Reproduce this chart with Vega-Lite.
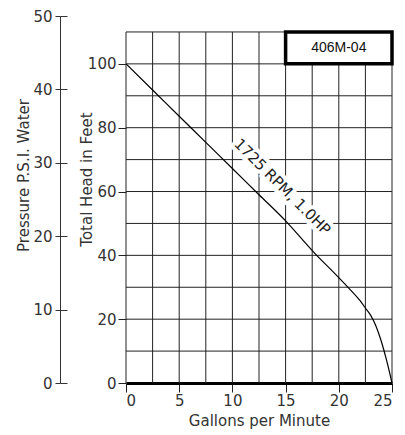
{
  "$schema": "https://vega.github.io/schema/vega-lite/v6.json",
  "width": 266,
  "height": 367,
  "autosize": "none",
  "padding": {"left": 126, "top": 16, "right": 13, "bottom": 52},
  "background": "white",
  "config": {"view": {"stroke": null}, "font": "DejaVu Sans"},
  "datasets": {
    "curve": [
      {"gpm": 0, "head": 100},
      {"gpm": 2.5, "head": 91.8},
      {"gpm": 5, "head": 83.6},
      {"gpm": 7.5, "head": 75.4},
      {"gpm": 10, "head": 67.2},
      {"gpm": 12.5, "head": 59},
      {"gpm": 15, "head": 50.8},
      {"gpm": 17.5, "head": 41.5},
      {"gpm": 20, "head": 33},
      {"gpm": 21, "head": 29.5},
      {"gpm": 22, "head": 25.8},
      {"gpm": 22.5, "head": 23.5},
      {"gpm": 23, "head": 21.2},
      {"gpm": 23.5, "head": 17.8},
      {"gpm": 24, "head": 13},
      {"gpm": 24.5, "head": 7},
      {"gpm": 25, "head": 0}
    ],
    "vgrid": [
      {"gpm": 0}, {"gpm": 2.5}, {"gpm": 5}, {"gpm": 7.5}, {"gpm": 10}, {"gpm": 12.5},
      {"gpm": 15}, {"gpm": 17.5}, {"gpm": 20}, {"gpm": 22.5}, {"gpm": 25}
    ],
    "hgrid": [
      {"head": 10}, {"head": 20}, {"head": 30}, {"head": 40}, {"head": 50}, {"head": 60},
      {"head": 70}, {"head": 80}, {"head": 90}, {"head": 100}, {"head": 110}
    ],
    "label": [{"gpm": 14.7, "head": 61.5, "text": "1725 RPM, 1.0HP"}],
    "box": [{"gpm": 15, "gpm_end": 25, "head": 100, "head_end": 110, "name": "406M-04"}],
    "psi": [{"psi": 0}, {"psi": 50}]
  },
  "resolve": {"scale": {"y": "independent"}},
  "layer": [
    {
      "layer": [
        {
          "data": {"name": "vgrid"},
          "mark": {"type": "rule", "color": "#222", "strokeWidth": 1},
          "encoding": {
            "x": {
              "field": "gpm", "type": "quantitative",
              "scale": {"domain": [0, 25], "nice": false, "zero": false},
              "axis": {
                "values": [0, 2.5, 5, 7.5, 10, 12.5, 15, 17.5, 20, 22.5, 25],
                "labelExpr": "datum.value % 5 === 0 ? datum.label : ''",
                "grid": false, "tickSize": 9, "tickColor": "#222",
                "domainWidth": 3, "domainColor": "#000",
                "labelFontSize": 15, "labelColor": "#333", "labelPadding": 1,
                "title": "Gallons per Minute", "titleFontSize": 15,
                "titleFontWeight": "normal", "titleColor": "#333", "titlePadding": 5
              }
            },
            "y": {
              "datum": 0, "type": "quantitative",
              "scale": {"domain": [0, 115], "nice": false},
              "axis": {
                "values": [0, 20, 40, 60, 80, 100],
                "domain": false, "grid": false, "tickSize": 8, "tickColor": "#222",
                "labelFontSize": 15, "labelColor": "#333", "labelPadding": 2,
                "title": "Total Head in Feet", "titleFontSize": 15,
                "titleFontWeight": "normal", "titleColor": "#333",
                "titleX": -32, "titleY": 163
              }
            },
            "y2": {"datum": 110}
          }
        },
        {
          "data": {"name": "hgrid"},
          "mark": {"type": "rule", "color": "#222", "strokeWidth": 1},
          "encoding": {
            "y": {"field": "head", "type": "quantitative"},
            "x": {"datum": 0, "type": "quantitative"},
            "x2": {"datum": 25}
          }
        },
        {
          "data": {"name": "box"},
          "mark": {"type": "rect", "fill": "white", "stroke": "black", "strokeWidth": 3.5},
          "encoding": {
            "x": {"field": "gpm", "type": "quantitative"},
            "x2": {"field": "gpm_end"},
            "y": {"field": "head", "type": "quantitative"},
            "y2": {"field": "head_end"}
          }
        },
        {
          "data": {"name": "box"},
          "transform": [{"calculate": "(datum.gpm + datum.gpm_end) / 2", "as": "mid_x"}, {"calculate": "(datum.head + datum.head_end) / 2", "as": "mid_y"}],
          "mark": {"type": "text", "font": "Liberation Sans", "fontSize": 14, "color": "#111", "align": "center", "baseline": "middle"},
          "encoding": {
            "x": {"field": "mid_x", "type": "quantitative"},
            "y": {"field": "mid_y", "type": "quantitative"},
            "text": {"field": "name"}
          }
        },
        {
          "data": {"name": "label"},
          "mark": {"type": "text", "fontSize": 15, "angle": 45, "align": "center", "baseline": "middle", "fill": "white", "stroke": "white", "strokeWidth": 8},
          "encoding": {
            "x": {"field": "gpm", "type": "quantitative"},
            "y": {"field": "head", "type": "quantitative"},
            "text": {"field": "text"}
          }
        },
        {
          "data": {"name": "curve"},
          "mark": {"type": "line", "color": "#000", "strokeWidth": 1.2, "interpolate": "monotone"},
          "encoding": {
            "x": {"field": "gpm", "type": "quantitative"},
            "y": {"field": "head", "type": "quantitative"}
          }
        },
        {
          "data": {"name": "label"},
          "mark": {"type": "text", "fontSize": 15, "angle": 45, "align": "center", "baseline": "middle", "color": "#222"},
          "encoding": {
            "x": {"field": "gpm", "type": "quantitative"},
            "y": {"field": "head", "type": "quantitative"},
            "text": {"field": "text"}
          }
        }
      ]
    },
    {
      "data": {"name": "psi"},
      "mark": {"type": "point", "opacity": 0},
      "encoding": {
        "y": {
          "field": "psi", "type": "quantitative",
          "scale": {"domain": [0, 50], "nice": false},
          "axis": {
            "orient": "left", "offset": 66,
            "values": [0, 10, 20, 30, 40, 50],
            "domain": true, "domainColor": "#333", "grid": false,
            "tickSize": 5, "tickColor": "#333",
            "labelFontSize": 15, "labelColor": "#333", "labelPadding": 3,
            "title": "Pressure P.S.I. Water", "titleFontSize": 15,
            "titleFontWeight": "normal", "titleColor": "#333",
            "titleX": -29, "titleY": 159
          }
        }
      }
    },
    {
      "data": {"name": "psi"},
      "mark": {"type": "point", "opacity": 0},
      "encoding": {
        "y": {
          "field": "psi", "type": "quantitative",
          "scale": {"domain": [0, 50], "nice": false},
          "axis": {
            "orient": "left", "offset": 66,
            "values": [0, 10, 20, 30, 40, 50],
            "domain": false, "grid": false, "labels": false,
            "tickSize": -7, "tickColor": "#333", "title": null
          }
        }
      }
    }
  ]
}
